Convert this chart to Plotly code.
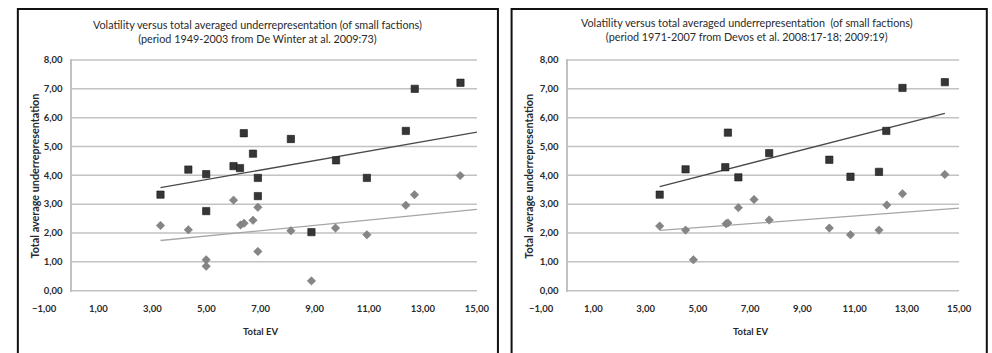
import plotly.graph_objects as go

# ---------------- data ----------------
X_TICKS = [-1, 1, 3, 5, 7, 9, 11, 13, 15]
Y_TICKS = [0, 1, 2, 3, 4, 5, 6, 7, 8]

L_TITLE = "Volatility versus total averaged underrepresentation (of small factions)<br>(period 1949-2003 from De Winter at al. 2009:73)"
R_TITLE = "Volatility versus total averaged underrepresentation  (of small factions)<br>(period 1971-2007 from Devos et al. 2008:17-18; 2009:19)"
X_TITLE = "Total EV"
Y_TITLE = "Total average underrepresentation"

L_SQ_X = [3.30, 4.33, 4.99, 4.99, 6.00, 6.24, 6.38, 6.72, 6.90, 6.90, 8.12, 8.88, 9.79, 10.93, 12.37, 12.70, 14.39]
L_SQ_Y = [3.33, 4.20, 4.04, 2.76, 4.32, 4.25, 5.46, 4.75, 3.91, 3.28, 5.26, 2.03, 4.52, 3.91, 5.54, 7.00, 7.21]
L_DI_X = [3.30, 4.33, 4.99, 4.99, 6.00, 6.26, 6.39, 6.72, 6.90, 6.90, 8.12, 8.88, 9.77, 10.93, 12.37, 12.69, 14.38]
L_DI_Y = [2.26, 2.11, 1.07, 0.85, 3.14, 2.28, 2.34, 2.44, 2.89, 1.36, 2.08, 0.34, 2.17, 1.94, 2.96, 3.33, 3.99]
L_SQ_TREND_X = [3.30, 15.00]
L_SQ_TREND_Y = [3.57, 5.50]
L_DI_TREND_X = [3.30, 15.00]
L_DI_TREND_Y = [1.74, 2.82]

R_SQ_X = [3.54, 4.53, 6.05, 6.15, 6.55, 7.73, 10.03, 10.84, 11.93, 12.21, 12.83, 14.45]
R_SQ_Y = [3.33, 4.21, 4.28, 5.48, 3.93, 4.77, 4.54, 3.95, 4.12, 5.54, 7.03, 7.23]
R_DI_X = [3.54, 4.53, 4.83, 6.08, 6.15, 6.55, 7.15, 7.73, 10.03, 10.84, 11.93, 12.23, 12.83, 14.45]
R_DI_Y = [2.24, 2.10, 1.07, 2.32, 2.35, 2.88, 3.16, 2.45, 2.17, 1.94, 2.10, 2.97, 3.36, 4.03]
R_SQ_TREND_X = [3.54, 14.45]
R_SQ_TREND_Y = [3.61, 6.15]
R_DI_TREND_X = [3.54, 15.00]
R_DI_TREND_Y = [2.09, 2.86]

# ---------------- styling ----------------
W, H = 992, 353
SQ_COLOR = "#363636"
DI_COLOR = "#858585"
SQ_TREND = "#4a4a4a"
DI_TREND = "#a6a6a6"
GRID = "#c2c2c2"
TXT = "#2a2a2a"
FONT = "Lato"

X_RANGE = [-1, 15]
Y_RANGE = [-0.05, 8.05]
Y_DOM = [1 - 294.8 / H, 1 - 55.8 / H]

panels = [
    dict(xd=(33.0, 477.0), sq=(L_SQ_X, L_SQ_Y), di=(L_DI_X, L_DI_Y),
         sqt=(L_SQ_TREND_X, L_SQ_TREND_Y), dit=(L_DI_TREND_X, L_DI_TREND_Y),
         title=L_TITLE, box=(6, 498.5), tx=252, ty=28.5, ytx=23),
    dict(xd=(542.7, 971.7), sq=(R_SQ_X, R_SQ_Y), di=(R_DI_X, R_DI_Y),
         sqt=(R_SQ_TREND_X, R_SQ_TREND_Y), dit=(R_DI_TREND_X, R_DI_TREND_Y),
         title=R_TITLE, box=(512.5, 1000), tx=754, ty=26.5, ytx=529),
]

fig = go.Figure()
shapes = []
annotations = []
layout = {}

for i, p in enumerate(panels, start=1):
    xa = "x" if i == 1 else f"x{i}"
    ya = "y" if i == 1 else f"y{i}"
    xk = "xaxis" if i == 1 else f"xaxis{i}"
    yk = "yaxis" if i == 1 else f"yaxis{i}"
    x0px, x1px = p["xd"]
    zero_px = x0px + (0 - X_RANGE[0]) / (X_RANGE[1] - X_RANGE[0]) * (x1px - x0px)

    fig.add_trace(go.Scatter(x=p["dit"][0], y=p["dit"][1], mode="lines",
                             line=dict(color=DI_TREND, width=1.3),
                             xaxis=xa, yaxis=ya, showlegend=False, hoverinfo="skip"))
    fig.add_trace(go.Scatter(x=p["sqt"][0], y=p["sqt"][1], mode="lines",
                             line=dict(color=SQ_TREND, width=1.3),
                             xaxis=xa, yaxis=ya, showlegend=False, hoverinfo="skip"))
    fig.add_trace(go.Scatter(x=p["di"][0], y=p["di"][1], mode="markers",
                             marker=dict(symbol="diamond", size=6.5, color=DI_COLOR,
                                         line=dict(color="#777777", width=0.5)),
                             xaxis=xa, yaxis=ya, showlegend=False))
    fig.add_trace(go.Scatter(x=p["sq"][0], y=p["sq"][1], mode="markers",
                             marker=dict(symbol="square", size=7.3, color=SQ_COLOR,
                                         line=dict(color="#1a1a1a", width=0.6)),
                             xaxis=xa, yaxis=ya, showlegend=False))

    layout[xk] = dict(domain=[x0px / W, x1px / W], range=X_RANGE, anchor=ya,
                      tickvals=X_TICKS, tickformat=".2f", showgrid=False,
                      zeroline=False, showline=False, ticks="",
                      ticklabelstandoff=9,
                      tickfont=dict(family=FONT, size=9.5, color=TXT, weight="bold"))
    layout[yk] = dict(domain=Y_DOM, range=Y_RANGE, anchor="free",
                      position=zero_px / W, tickvals=Y_TICKS, tickformat=".2f",
                      showgrid=False, zeroline=False, showline=True,
                      linecolor=GRID, linewidth=1.5, ticks="",
                      ticklabelstandoff=6,
                      tickfont=dict(family=FONT, size=9.5, color=TXT, weight="bold"))

    for t in Y_TICKS:
        shapes.append(dict(type="line", xref=xa, yref=ya, x0=0, x1=X_RANGE[1],
                           y0=t, y1=t, line=dict(color=GRID, width=1.5), layer="below"))

    bx0, bx1 = p["box"]
    shapes.append(dict(type="rect", xref="paper", yref="paper",
                       x0=bx0 / W, x1=bx1 / W, y0=-0.05, y1=1 - 5 / H,
                       line=dict(color="#111111", width=2), fillcolor="rgba(0,0,0,0)"))

    annotations.append(dict(text=p["title"], xref="paper", yref="paper",
                            x=p["tx"] / W, y=1 - p["ty"] / H, showarrow=False,
                            xanchor="center", yanchor="middle",
                            font=dict(family=FONT, size=10.8, color=TXT)))
    annotations.append(dict(text=X_TITLE, xref="paper", yref="paper",
                            x=(x0px + x1px) / 2 / W, y=1 - 335.5 / H, showarrow=False,
                            xanchor="center", yanchor="middle",
                            font=dict(family=FONT, size=9.5, color=TXT, weight="bold")))
    annotations.append(dict(text=Y_TITLE, xref="paper", yref="paper",
                            x=p["ytx"] / W, y=1 - 176 / H, showarrow=False,
                            textangle=-90, xanchor="center", yanchor="middle",
                            font=dict(family=FONT, size=10.8, color=TXT, weight="bold")))

fig.update_layout(
    width=W, height=H, margin=dict(l=0, r=0, t=0, b=0),
    paper_bgcolor="white", plot_bgcolor="white",
    separators=",.", showlegend=False,
    shapes=shapes, annotations=annotations,
    **layout,
)

fig.write_html("out.html")
